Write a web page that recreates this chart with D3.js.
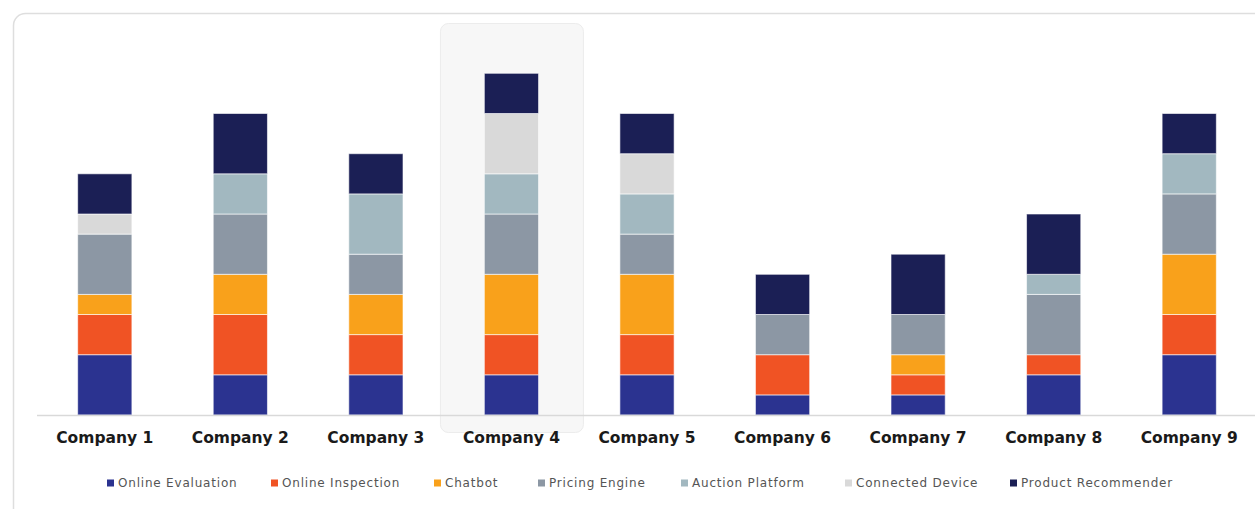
<!DOCTYPE html>
<html>
<head>
<meta charset="utf-8">
<script src="https://cdn.jsdelivr.net/npm/d3@7"></script>
<style>
  body { margin: 0; background: #ffffff; }
  svg { display: block; }
</style>
</head>
<body>
<div id="chart"></div>
<script>
// Categories and series (values in units)
const companies = ["Company 1", "Company 2", "Company 3", "Company 4", "Company 5",
  "Company 6", "Company 7", "Company 8", "Company 9"];
const seriesNames = ["Online Evaluation", "Online Inspection", "Chatbot", "Pricing Engine",
  "Auction Platform", "Connected Device", "Product Recommender"];
const onlineEvaluation   = [3, 2, 2, 2, 2, 1, 1, 2, 3];
const onlineInspection   = [2, 3, 2, 2, 2, 2, 1, 1, 2];
const chatbot            = [1, 2, 2, 3, 3, 0, 1, 0, 3];
const pricingEngine      = [3, 3, 2, 3, 2, 2, 2, 3, 3];
const auctionPlatform    = [0, 2, 3, 2, 2, 0, 0, 1, 2];
const connectedDevice    = [1, 0, 0, 3, 2, 0, 0, 0, 0];
const productRecommender = [2, 3, 2, 2, 2, 2, 3, 3, 2];
const highlighted = "Company 4";

// Color Scheme
const colors = ["#2B3390", "#F05324", "#F9A11B", "#8C97A4", "#A2B8C0", "#D9D9D9", "#1B1F55"];

const WIDTH = 1255;
const HEIGHT = 509;

// build rows for d3.stack
const seriesValues = [onlineEvaluation, onlineInspection, chatbot, pricingEngine,
  auctionPlatform, connectedDevice, productRecommender];
const rows = companies.map((c, i) => {
  const row = { company: c };
  seriesNames.forEach((s, j) => { row[s] = seriesValues[j][i]; });
  return row;
});
const stacked = d3.stack().keys(seriesNames)(rows);

const svg = d3.select("#chart").append("svg")
  .attr("width", WIDTH)
  .attr("height", HEIGHT)
  .style("font-family", "'DejaVu Sans', Verdana, sans-serif");

// card frame
svg.append("rect")
  .attr("x", 13.5).attr("y", 13.5)
  .attr("width", 1270).attr("height", 520)
  .attr("rx", 12)
  .attr("fill", "#ffffff")
  .attr("stroke", "#dedede")
  .attr("stroke-width", 1.5);

// scales
const xScale = d3.scaleBand()
  .domain(companies)
  .range([37, 1257])
  .paddingInner(0.6)
  .paddingOuter(0.3);

const yScale = d3.scaleLinear()
  .domain([0, 20])
  .range([415, 13]);

// highlight box behind Company 4
svg.append("rect")
  .attr("x", xScale(highlighted) + xScale.bandwidth() / 2 - 71)
  .attr("y", 23.5)
  .attr("width", 143)
  .attr("height", 409)
  .attr("rx", 8)
  .attr("fill", "#f7f7f7")
  .attr("stroke", "#ececec")
  .attr("stroke-width", 1);

// bars
svg.append("g")
  .selectAll("g")
  .data(stacked)
  .join("g")
  .attr("fill", (d, i) => colors[i])
  .selectAll("rect")
  .data(d => d.filter(p => p[1] - p[0] > 0))
  .join("rect")
  .attr("x", d => xScale(d.data.company))
  .attr("y", d => yScale(d[1]))
  .attr("width", xScale.bandwidth())
  .attr("height", d => yScale(d[0]) - yScale(d[1]))
  .attr("stroke", "#ffffff")
  .attr("stroke-opacity", 0.6)
  .attr("stroke-width", 1);

// x axis
const xAxis = svg.append("g")
  .attr("transform", `translate(0, ${yScale(0)})`)
  .call(d3.axisBottom(xScale).tickSize(0).tickPadding(17));
xAxis.select(".domain")
  .attr("d", `M37,0.5H1255`)
  .attr("stroke", "#d9d9d9")
  .attr("stroke-width", 1.5);
xAxis.selectAll("text")
  .attr("font-size", "15.5px")
  .attr("font-weight", "bold")
  .attr("fill", "#1a1a1a")
  .style("font-family", "'DejaVu Sans', Verdana, sans-serif");

// legend
const legendX = [107, 271, 434, 538, 681, 845, 1010];
const legend = svg.append("g")
  .selectAll("g")
  .data(seriesNames)
  .join("g")
  .attr("transform", (d, i) => `translate(${legendX[i]}, 483)`);
legend.append("rect")
  .attr("x", 0).attr("y", -3.5)
  .attr("width", 7).attr("height", 7)
  .attr("fill", (d, i) => colors[i]);
legend.append("text")
  .attr("x", 11)
  .attr("dy", "0.35em")
  .attr("font-size", "12px")
  .attr("letter-spacing", "0.8px")
  .attr("fill", "#555555")
  .text(d => d);
</script>
</body>
</html>
